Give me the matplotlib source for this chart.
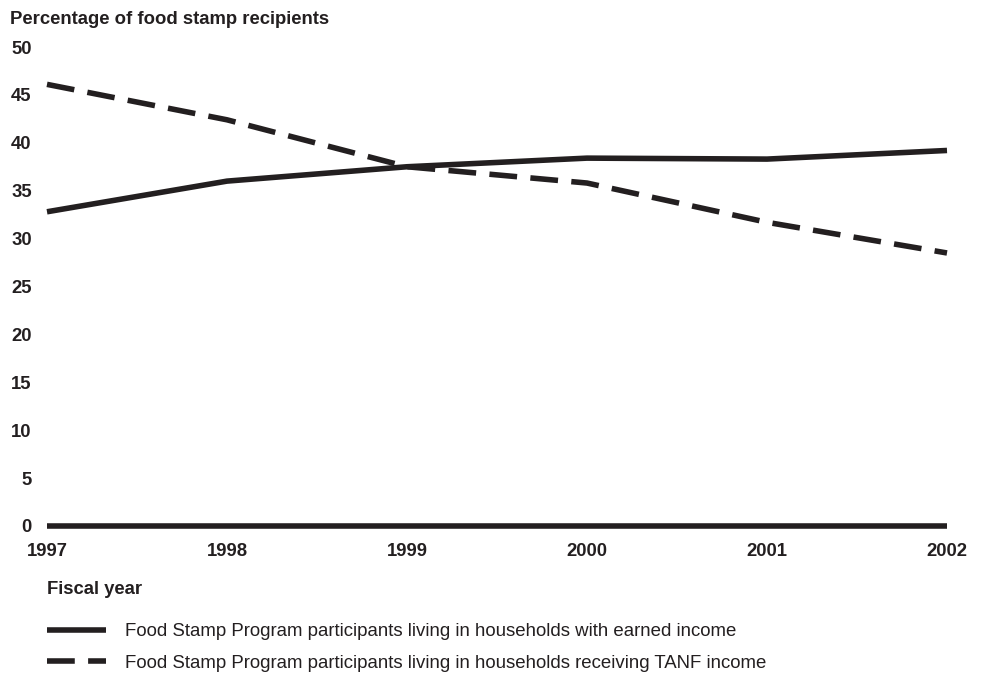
import matplotlib.pyplot as plt
from matplotlib.lines import Line2D

years = [1997, 1998, 1999, 2000, 2001, 2002]
earned_income = [32.8, 36.0, 37.5, 38.4, 38.3, 39.2]
tanf_income = [46.1, 42.4, 37.5, 35.8, 31.7, 28.5]
y_ticks = [0, 5, 10, 15, 20, 25, 30, 35, 40, 45, 50]

INK = "#231f20"
LW = 4.0
DASH = (5.0, 2.4)
FS = 13.3

plt.rcParams['font.family'] = ['Liberation Sans', 'DejaVu Sans']

fig = plt.figure(figsize=(9.87, 6.75), dpi=100)
ax = fig.add_axes([47 / 987, 1 - 526 / 675, 900 / 987, 479 / 675])

ax.plot(years, earned_income, color=INK, lw=LW, solid_capstyle='butt', clip_on=False)
ax.plot(years, tanf_income, color=INK, lw=LW, linestyle=(0, DASH), dash_capstyle='butt', clip_on=False)
ax.axhline(0, color=INK, lw=LW, solid_capstyle='butt', clip_on=False)

ax.set_xlim(1997, 2002)
ax.set_ylim(0, 50)
ax.set_xticks(years)
ax.set_xticklabels([str(y) for y in years])
ax.set_yticks(y_ticks)
for s in ax.spines.values():
    s.set_visible(False)
ax.tick_params(axis='both', length=0, labelsize=FS, colors=INK)
ax.tick_params(axis='y', pad=11)
ax.tick_params(axis='x', pad=12.5)
for lab in ax.get_xticklabels() + ax.get_yticklabels():
    lab.set_fontweight('bold')

fig.text(10 / 987, 1 - 19 / 675, "Percentage of food stamp recipients", fontsize=FS,
         fontweight='bold', color=INK, ha='left', va='center')
fig.text(47 / 987, 1 - 589 / 675, "Fiscal year", fontsize=FS,
         fontweight='bold', color=INK, ha='left', va='center')

handles = [
    Line2D([], [], color=INK, lw=LW, solid_capstyle='butt'),
    Line2D([], [], color=INK, lw=LW, linestyle=(0, DASH), dash_capstyle='butt'),
]
labels = [
    "Food Stamp Program participants living in households with earned income",
    "Food Stamp Program participants living in households receiving TANF income",
]
leg = fig.legend(handles, labels, loc='upper left', bbox_to_anchor=(47 / 987, 1 - 623 / 675),
                 frameon=False, fontsize=13.45, handlelength=3.15, handletextpad=1.05,
                 labelspacing=0.78, borderaxespad=0, borderpad=0)
for t in leg.get_texts():
    t.set_color(INK)

fig.savefig("out.png", dpi=100)
